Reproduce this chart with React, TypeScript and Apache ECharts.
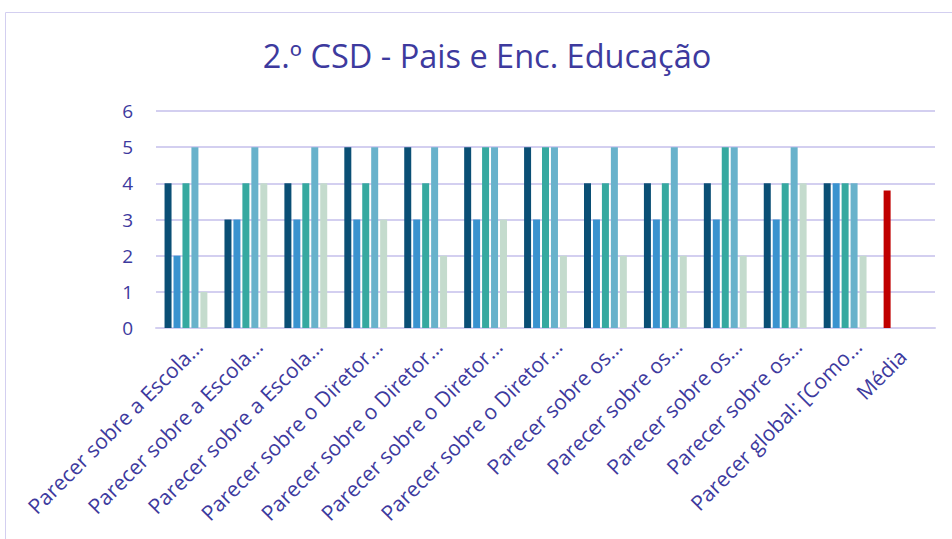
import React, { useEffect, useRef } from "react";
import * as echarts from "echarts";

const categories = [
  "Parecer sobre a Escola…",
  "Parecer sobre a Escola…",
  "Parecer sobre a Escola…",
  "Parecer sobre o Diretor…",
  "Parecer sobre o Diretor…",
  "Parecer sobre o Diretor…",
  "Parecer sobre o Diretor…",
  "Parecer sobre os…",
  "Parecer sobre os…",
  "Parecer sobre os…",
  "Parecer sobre os…",
  "Parecer global: [Como…",
  "Média",
];

const series1 = [4, 3, 4, 5, 5, 5, 5, 4, 4, 4, 4, 4];
const series2 = [2, 3, 3, 3, 3, 3, 3, 3, 3, 3, 3, 4];
const series3 = [4, 4, 4, 4, 4, 5, 5, 4, 4, 5, 4, 4];
const series4 = [5, 5, 5, 5, 5, 5, 5, 5, 5, 5, 5, 4];
const series5 = [1, 4, 4, 3, 2, 3, 2, 2, 2, 2, 4, 2];
const mediaValue = 3.8;

const yTicks = [0, 1, 2, 3, 4, 5, 6];

const colors = ["#0A4F75", "#3A93CF", "#36A9A0", "#68B2CB", "#C4DBCD"];
const mediaColor = "#C00000";
const textColor = "#3D3A9E";
const gridColor = "#D3CFF0";
const font = "'Open Sans', 'Noto Sans', sans-serif";

export default function App() {
  const ref = useRef<HTMLDivElement>(null);
  useEffect(() => {
    if (!ref.current) return;
    const chart = echarts.init(ref.current, undefined, { renderer: "svg" });
    const all = [series1, series2, series3, series4, series5];
    const seriesList = all.map((arr, i) => {
      const data: any[] = arr.map((v) => v);
      if (i === 0) {
        data.push({ value: mediaValue, itemStyle: { color: mediaColor } });
      } else {
        data.push(null);
      }
      return {
        type: "bar",
        name: "S" + (i + 1),
        data,
        barWidth: 7,
        barGap: "28%",
        itemStyle: { color: colors[i] },
      };
    });
    const lastIndex = categories.length - 1;
    chart.setOption({
      animation: false,
      title: {
        text: "2.º CSD - Pais e Enc. Educação",
        left: 482,
        top: 34,
        textAlign: "center",
        textStyle: {
          color: textColor,
          fontSize: 32.5,
          fontWeight: "normal",
          fontFamily: font,
        },
      },
      graphic: [
        {
          type: "rect",
          shape: { x: 5.5, y: 12.5, width: 1000, height: 600 },
          style: { fill: "none", stroke: gridColor, lineWidth: 1 },
          silent: true,
        },
      ],
      grid: {
        left: 156,
        right: 17,
        top: 111,
        bottom: 211,
        containLabel: false,
        outerBoundsMode: "none",
      },
      xAxis: {
        type: "category",
        data: categories,
        axisLine: { show: true, lineStyle: { color: gridColor, width: 2 } },
        axisTick: { show: false },
        axisLabel: {
          interval: 0,
          rotate: 45,
          margin: 2,
          color: textColor,
          fontSize: 21,
          fontFamily: font,
          verticalAlign: "top",
          lineHeight: 36,
          formatter: (value: string, index: number) =>
            index === lastIndex ? "{m|" + value + "}" : value,
          rich: {
            m: {
              color: textColor,
              fontSize: 21,
              fontFamily: font,
              lineHeight: 29,
              padding: [0, 18, 0, 0],
            },
          },
        },
      },
      yAxis: {
        type: "value",
        min: yTicks[0],
        max: yTicks[yTicks.length - 1],
        interval: 1,
        axisLine: { show: false },
        axisTick: { show: false },
        splitLine: { lineStyle: { color: gridColor, width: 2 } },
        axisLabel: {
          margin: 23,
          color: textColor,
          fontSize: 19,
          fontFamily: font,
        },
      },
      series: seriesList,
    });
    return () => chart.dispose();
  }, []);
  return (
    <div
      ref={ref}
      style={{ position: "fixed", left: 0, top: 0, width: 952, height: 539, background: "#fff" }}
    />
  );
}
